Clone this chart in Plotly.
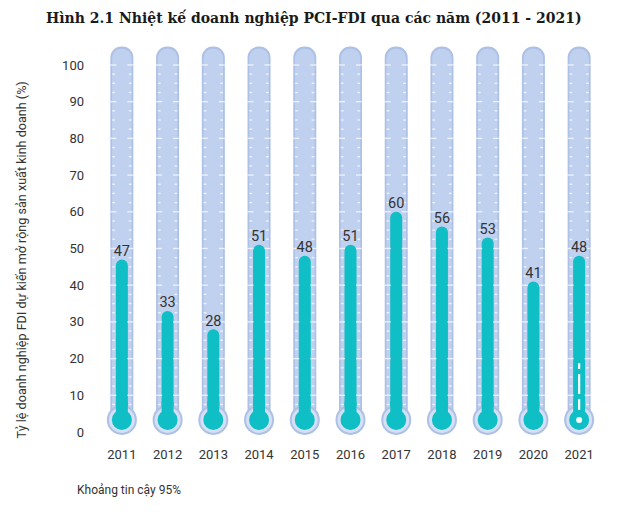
import plotly.graph_objects as go

years = ["2011", "2012", "2013", "2014", "2015", "2016", "2017", "2018", "2019", "2020", "2021"]
values = [47, 33, 28, 51, 48, 51, 60, 56, 53, 41, 48]
y_ticks = [0, 10, 20, 30, 40, 50, 60, 70, 80, 90, 100]
tube_top = 105
bulb_value = 3.3
ci_2021 = [6, 19]

TEAL = "#0fbfc5"
RIM = "#adc0e6"
BODY = "#c0d1ef"
LIGHT = "#d5e0f4"

xs = list(range(len(years)))
px = 1 / 45.7  # data units per pixel on x

fig = go.Figure()

# tube rim
fig.add_trace(go.Bar(x=xs, y=[tube_top - bulb_value] * len(xs), base=bulb_value,
                     width=23 * px, marker=dict(color=RIM, line_width=0, cornerradius="50%"),
                     hoverinfo="skip"))
# tube body
fig.add_trace(go.Bar(x=xs, y=[tube_top - bulb_value - 0.6] * len(xs), base=bulb_value,
                     width=19.5 * px, marker=dict(color=BODY, line_width=0, cornerradius="50%"),
                     hoverinfo="skip"))
# teal bars
fig.add_trace(go.Bar(x=xs, y=[v - bulb_value for v in values], base=bulb_value,
                     width=12 * px, marker=dict(color=TEAL, line_width=0, cornerradius="50%"),
                     hoverinfo="skip"))

# tick dashes on the tube
tick_levels = [i * 2.5 for i in range(3, 41)]
tx, ty, tsz = [], [], []
for i in xs:
    for t in tick_levels:
        long = abs(t % 10) < 1e-9
        for side in (-1, 1):
            tx.append(i + side * (8.6 if long else 8.3) * px)
            ty.append(t)
            tsz.append(4.5 if long else 2)
fig.add_trace(go.Scatter(x=tx, y=ty, mode="markers",
                         marker=dict(symbol="line-ew", size=tsz, line=dict(color="white", width=1.4)),
                         hoverinfo="skip"))

# bulbs
fig.add_trace(go.Scatter(x=xs, y=[bulb_value] * len(xs), mode="markers",
                         marker=dict(size=30, color=RIM, line_width=0), hoverinfo="skip"))
fig.add_trace(go.Scatter(x=xs, y=[bulb_value] * len(xs), mode="markers",
                         marker=dict(size=26, color=LIGHT, line_width=0), hoverinfo="skip"))
nx, ny = [], []
for i in xs:
    nx += [i, i, None]
    ny += [bulb_value, bulb_value + 5, None]
fig.add_trace(go.Scatter(x=nx, y=ny, mode="lines", line=dict(color=TEAL, width=12),
                         hoverinfo="skip"))
fig.add_trace(go.Scatter(x=xs, y=[bulb_value] * len(xs), mode="markers",
                         marker=dict(size=20, color=TEAL, line_width=0), hoverinfo="skip"))

# confidence interval marker (2021)
fig.add_trace(go.Scatter(x=[xs[-1], xs[-1]], y=ci_2021, mode="lines",
                         line=dict(color="white", width=2.2, dash="11px,5px,20px,5px,6px"),
                         hoverinfo="skip"))
fig.add_trace(go.Scatter(x=[xs[-1]], y=[bulb_value], mode="markers",
                         marker=dict(size=6, color="white"), hoverinfo="skip"))

# value labels
fig.add_trace(go.Scatter(x=xs, y=values, mode="text", text=[str(v) for v in values],
                         textposition="top center", cliponaxis=False,
                         textfont=dict(family="Roboto", size=14.5, color="#333333"),
                         hoverinfo="skip"))

fig.update_layout(
    width=624, height=496,
    margin=dict(l=91, r=30, t=32, b=59),
    paper_bgcolor="white", plot_bgcolor="white",
    barmode="overlay", showlegend=False,
    title=dict(text="<b>Hình 2.1 Nhiệt kế doanh nghiệp PCI-FDI qua các năm (2011 - 2021)</b>",
               x=0.49, xanchor="center", y=0.98, yanchor="middle",
               font=dict(family="DejaVu Serif", size=14, color="#1a1a1a")),
    font=dict(family="Roboto", color="#333333"),
)
fig.update_xaxes(range=[-0.5, 10.5], tickvals=xs, ticktext=years, showgrid=False,
                 zeroline=False, showline=False, ticks="", tickfont=dict(size=13, color="#333333"))
fig.update_yaxes(range=[-3.54, 106.8], tickvals=y_ticks, showgrid=False, zeroline=False,
                 showline=False, ticks="", ticklabelstandoff=14,
                 tickfont=dict(size=13, color="#333333"))

fig.add_annotation(text="Tỷ lệ doanh nghiệp FDI dự kiến mở rộng sản xuất kinh doanh (%)",
                   xref="paper", yref="paper", x=0, xshift=-87, y=0.457, textangle=-90,
                   showarrow=False, font=dict(family="Roboto", size=12.6, color="#333333"))
fig.add_annotation(text="Khoảng tin cậy 95%", xref="paper", yref="paper", x=0, xshift=-24,
                   xanchor="left", y=-0.11, yanchor="middle", showarrow=False,
                   font=dict(family="Roboto", size=12, color="#333333"))

fig.write_html("out.html")
